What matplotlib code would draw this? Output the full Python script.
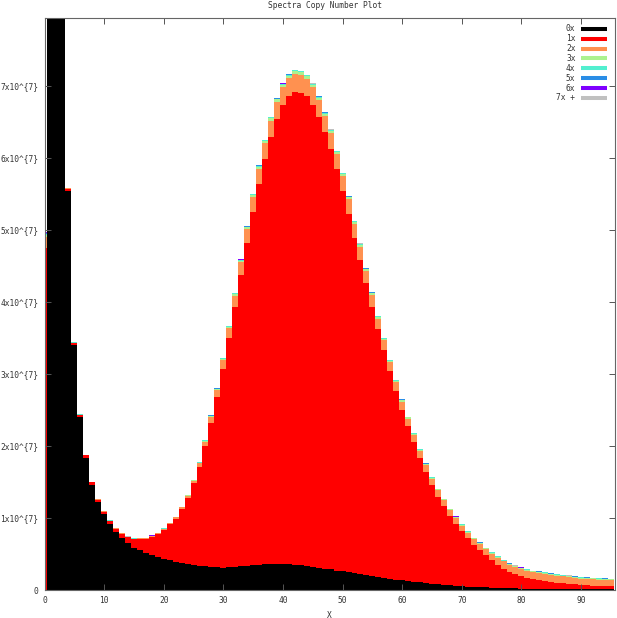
import numpy as np
import matplotlib
matplotlib.use("Agg")
import matplotlib.pyplot as plt
from matplotlib.lines import Line2D

# k-mer multiplicity bins (X) and stacked counts per copy number, in units of 1e7
copy_bins = np.arange(96)

cn0 = [0.0, 16.0, 12.5, 8.8, 5.545, 3.40, 2.40, 1.84, 1.465, 1.225,
       1.06, 0.92, 0.81, 0.72, 0.65, 0.59, 0.555, 0.52, 0.49, 0.455,
       0.43, 0.41, 0.39, 0.375, 0.36, 0.35, 0.34, 0.33, 0.32, 0.315,
       0.31, 0.315, 0.32, 0.33, 0.34, 0.345, 0.35, 0.355, 0.36, 0.36,
       0.36, 0.355, 0.35, 0.345, 0.335, 0.32, 0.31, 0.295, 0.285, 0.27,
       0.26, 0.245, 0.235, 0.22, 0.21, 0.195, 0.18, 0.17, 0.155, 0.145,
       0.135, 0.125, 0.115, 0.105, 0.095, 0.085, 0.078, 0.07, 0.064, 0.058,
       0.053, 0.048, 0.043, 0.039, 0.035, 0.032, 0.029, 0.026, 0.024, 0.022,
       0.02, 0.018, 0.017, 0.016, 0.015, 0.014, 0.013, 0.012, 0.012, 0.011,
       0.011, 0.01, 0.01, 0.01, 0.009, 0.009]

cn1 = [4.75, 0.03, 0.03, 0.03, 0.03, 0.03, 0.03, 0.03, 0.03, 0.03,
       0.025, 0.035, 0.04, 0.06, 0.08, 0.115, 0.15, 0.19, 0.25, 0.325,
       0.41, 0.50, 0.60, 0.75, 0.92, 1.13, 1.37, 1.67, 2.00, 2.36,
       2.76, 3.18, 3.61, 4.04, 4.48, 4.91, 5.29, 5.63, 5.93, 6.18,
       6.37, 6.50, 6.57, 6.56, 6.52, 6.42, 6.26, 6.06, 5.84, 5.57,
       5.28, 4.98, 4.66, 4.37, 4.05, 3.74, 3.44, 3.16, 2.88, 2.62,
       2.37, 2.15, 1.94, 1.73, 1.55, 1.37, 1.22, 1.09, 0.96, 0.86,
       0.76, 0.67, 0.58, 0.52, 0.45, 0.39, 0.32, 0.27, 0.225, 0.195,
       0.17, 0.15, 0.13, 0.12, 0.11, 0.095, 0.09, 0.082, 0.074, 0.067,
       0.06, 0.056, 0.052, 0.049, 0.046, 0.043]

cn2 = [0.15, 0.005, 0.005, 0.005, 0.005, 0.005, 0.005, 0.005, 0.005, 0.005,
       0.008, 0.008, 0.008, 0.008, 0.008, 0.008, 0.012, 0.012, 0.012, 0.012,
       0.012, 0.015, 0.02, 0.025, 0.03, 0.04, 0.05, 0.06, 0.08, 0.10,
       0.12, 0.14, 0.16, 0.18, 0.19, 0.20, 0.21, 0.22, 0.23, 0.24,
       0.25, 0.25, 0.25, 0.25, 0.245, 0.24, 0.235, 0.23, 0.22, 0.21,
       0.205, 0.20, 0.19, 0.18, 0.17, 0.16, 0.15, 0.14, 0.13, 0.12,
       0.11, 0.105, 0.10, 0.095, 0.09, 0.088, 0.085, 0.083, 0.082, 0.08,
       0.08, 0.08, 0.08, 0.08, 0.08, 0.08, 0.10, 0.10, 0.10, 0.10,
       0.10, 0.10, 0.10, 0.10, 0.10, 0.10, 0.095, 0.094, 0.092, 0.09,
       0.087, 0.087, 0.086, 0.084, 0.083, 0.081]

cn3 = [0.03, 0.002, 0.002, 0.002, 0.002, 0.002, 0.002, 0.002, 0.002, 0.002,
       0.002, 0.002, 0.002, 0.002, 0.002, 0.002, 0.002, 0.002, 0.002, 0.002,
       0.002, 0.004, 0.005, 0.006, 0.007, 0.008, 0.01, 0.012, 0.014, 0.016,
       0.018, 0.02, 0.022, 0.025, 0.027, 0.028, 0.03, 0.031, 0.032, 0.033,
       0.034, 0.035, 0.035, 0.035, 0.035, 0.034, 0.033, 0.032, 0.031, 0.03,
       0.029, 0.028, 0.027, 0.026, 0.025, 0.024, 0.022, 0.021, 0.02, 0.019,
       0.018, 0.017, 0.016, 0.016, 0.015, 0.015, 0.014, 0.014, 0.014, 0.013,
       0.013, 0.013, 0.013, 0.013, 0.013, 0.013, 0.013, 0.013, 0.013, 0.013,
       0.013, 0.013, 0.013, 0.013, 0.013, 0.013, 0.013, 0.013, 0.013, 0.013,
       0.013, 0.013, 0.013, 0.013, 0.013, 0.013]

cn4 = [0.02, 0.001, 0.001, 0.001, 0.001, 0.001, 0.001, 0.001, 0.001, 0.001,
       0.001, 0.001, 0.001, 0.001, 0.001, 0.001, 0.001, 0.001, 0.001, 0.001,
       0.001, 0.001, 0.001, 0.001, 0.001, 0.001, 0.004, 0.005, 0.006, 0.007,
       0.008, 0.009, 0.01, 0.01, 0.011, 0.011, 0.012, 0.012, 0.012, 0.012,
       0.012, 0.012, 0.012, 0.012, 0.012, 0.012, 0.012, 0.012, 0.012, 0.012,
       0.012, 0.011, 0.011, 0.01, 0.01, 0.009, 0.009, 0.009, 0.008, 0.008,
       0.008, 0.006, 0.006, 0.006, 0.006, 0.006, 0.006, 0.006, 0.006, 0.006,
       0.006, 0.006, 0.006, 0.006, 0.006, 0.006, 0.006, 0.006, 0.006, 0.006,
       0.006, 0.006, 0.006, 0.006, 0.006, 0.006, 0.006, 0.006, 0.006, 0.006,
       0.006, 0.006, 0.006, 0.006, 0.006, 0.006]

cn5 = [0.015, 0.001, 0.001, 0.001, 0.001, 0.001, 0.001, 0.001, 0.001, 0.001,
       0.001, 0.001, 0.001, 0.001, 0.001, 0.001, 0.001, 0.001, 0.001, 0.001,
       0.001, 0.001, 0.001, 0.001, 0.001, 0.001, 0.005, 0.005, 0.005, 0.005,
       0.005, 0.005, 0.005, 0.005, 0.005, 0.005, 0.006, 0.006, 0.007, 0.007,
       0.008, 0.008, 0.008, 0.008, 0.008, 0.007, 0.007, 0.006, 0.006, 0.005,
       0.005, 0.005, 0.005, 0.005, 0.005, 0.005, 0.005, 0.005, 0.005, 0.005,
       0.005, 0.003, 0.003, 0.003, 0.003, 0.003, 0.003, 0.003, 0.003, 0.003,
       0.003, 0.003, 0.003, 0.003, 0.003, 0.003, 0.003, 0.003, 0.003, 0.003,
       0.003, 0.003, 0.003, 0.003, 0.003, 0.003, 0.003, 0.003, 0.003, 0.003,
       0.003, 0.003, 0.003, 0.003, 0.003, 0.003]

cn6 = [0.003, 0.001, 0.001, 0.001, 0.001, 0.001, 0.001, 0.001, 0.001, 0.001,
       0.001, 0.001, 0.001, 0.001, 0.001, 0.001, 0.001, 0.001, 0.001, 0.001,
       0.001, 0.001, 0.001, 0.001, 0.001, 0.001, 0.001, 0.001, 0.001, 0.001,
       0.001, 0.001, 0.001, 0.001, 0.001, 0.001, 0.001, 0.001, 0.001, 0.001,
       0.001, 0.001, 0.001, 0.001, 0.001, 0.001, 0.001, 0.001, 0.001, 0.001,
       0.001, 0.001, 0.001, 0.001, 0.001, 0.001, 0.001, 0.001, 0.001, 0.001,
       0.001, 0.001, 0.001, 0.001, 0.001, 0.001, 0.001, 0.001, 0.001, 0.001,
       0.001, 0.001, 0.001, 0.001, 0.001, 0.001, 0.001, 0.001, 0.001, 0.001,
       0.001, 0.001, 0.001, 0.003, 0.003, 0.001, 0.001, 0.001, 0.001, 0.001,
       0.001, 0.001, 0.001, 0.001, 0.001, 0.001]

cn7plus = [0.002, 0.0005, 0.0005, 0.0005, 0.0005, 0.0005, 0.0005, 0.0005, 0.0005, 0.0005,
           0.0005, 0.0005, 0.0005, 0.0005, 0.0005, 0.0005, 0.0005, 0.0005, 0.0005, 0.0005,
           0.0005, 0.0005, 0.0005, 0.0005, 0.0005, 0.0005, 0.0005, 0.0005, 0.0005, 0.0005,
           0.0005, 0.0005, 0.0005, 0.0005, 0.0005, 0.0005, 0.0005, 0.0005, 0.0005, 0.0005,
           0.0005, 0.0005, 0.0005, 0.0005, 0.0005, 0.0005, 0.0005, 0.0005, 0.0005, 0.0005,
           0.0005, 0.0005, 0.0005, 0.0005, 0.0005, 0.0005, 0.0005, 0.0005, 0.0005, 0.0005,
           0.0005, 0.0005, 0.0005, 0.0005, 0.0005, 0.0005, 0.0005, 0.0005, 0.0005, 0.0005,
           0.0005, 0.0005, 0.0005, 0.0005, 0.0005, 0.0005, 0.0005, 0.0005, 0.0005, 0.0005,
           0.0005, 0.0005, 0.0005, 0.0005, 0.0005, 0.0005, 0.0005, 0.0005, 0.0005, 0.0005,
           0.0005, 0.0005, 0.0005, 0.0005, 0.0005, 0.0005]

labels = ["0x", "1x", "2x", "3x", "4x", "5x", "6x", "7x +"]
colors = ["#000000", "#ff0000", "#ff9150", "#abf28f", "#52efcf", "#2a8de6", "#7f00ff", "#c0c0c0"]
series = [cn0, cn1, cn2, cn3, cn4, cn5, cn6, cn7plus]

W, H = 617, 618
fig = plt.figure(figsize=(W / 100, H / 100), dpi=100)
ax = fig.add_axes([44.5 / W, 1 - 590 / H, (615 - 44.5) / W, (590 - 18) / H])

txt = dict(family="DejaVu Sans Mono", size=5.7, color="#333333")

bottom = np.zeros(len(copy_bins))
for vals, col in zip(series, colors):
    vals = np.array(vals)
    ax.bar(copy_bins, vals, width=1.0, bottom=bottom, color=col,
           linewidth=0, antialiased=False)
    bottom += vals

ax.set_xlim(0, 95.7)
ax.set_ylim(0, 7.944)
ax.set_xticks(range(0, 100, 10))
ax.set_yticks(range(0, 8))
ax.set_yticklabels(["0"] + ["%dx10^{7}" % k for k in range(1, 8)])
for lab in ax.get_xticklabels() + ax.get_yticklabels():
    lab.set_fontfamily(txt["family"])
    lab.set_fontsize(txt["size"])
    lab.set_color(txt["color"])
ax.tick_params(direction="in", length=4.3, width=0.7, color="#555555",
               top=True, right=True, pad=4.5)
for s in ax.spines.values():
    s.set_linewidth(0.8)
    s.set_color("#666666")

fig.text(325 / W, 1 - 5 / H, "Spectra Copy Number Plot", ha="center", va="center", **txt)
fig.text(329 / W, 1 - 615 / H, "X", ha="center", va="center", **txt)

# key in the top right corner, gnuplot style
for i, (lab, col) in enumerate(zip(labels, colors)):
    yy = 1 - (28.7 + i * 9.9) / H
    fig.text(575.5 / W, yy, lab, ha="right", va="center", **txt)
    fig.add_artist(Line2D([580.7 / W, 606.7 / W], [yy, yy], lw=2.9, color=col,
                          solid_capstyle="butt"))

plt.savefig("out.png", dpi=100)
